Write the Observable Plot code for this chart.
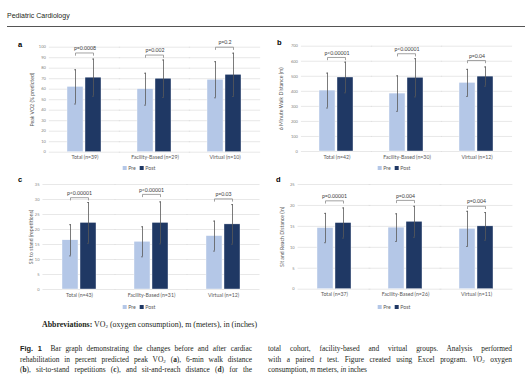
<!DOCTYPE html>
<html><head><meta charset="utf-8">
<script src="https://cdn.jsdelivr.net/npm/d3@7"></script>
<script src="https://cdn.jsdelivr.net/npm/@observablehq/plot@0.6"></script>
<style>
html,body{margin:0;padding:0;background:#fff}
body{width:530px;height:383px;position:relative;overflow:hidden;font-family:"Liberation Sans",Arial,sans-serif;color:#231f20}
.abs{position:absolute}
.letter{font-family:"Liberation Sans",Arial,sans-serif;font-weight:bold;font-size:7.5px;color:#000}
.panel svg{overflow:visible}
.panel g[aria-label="y-axis label"]{font-size:5.2px;fill:#595959}
.leg{position:absolute;transform:translateX(-50%);white-space:nowrap}
.leg .plot-swatches, .leg div{font-family:Lato,"Open Sans",sans-serif !important;font-size:5.2px !important;color:#595959 !important;margin:0 !important;min-height:0 !important}
.leg span{margin-right:4px !important;}
.leg svg{margin-right:1.5px !important}
.cap{font-family:"Liberation Serif","Times New Roman",serif;font-size:7.4px;line-height:10.5px;color:#231f20}
.cap .ln{text-align:justify;text-align-last:justify;white-space:nowrap;height:10.5px}
.cap .ln.last{text-align-last:left}
.figlab{font-family:"Liberation Sans",Arial,sans-serif;font-weight:bold}
</style></head><body>
<div class="abs" style="left:7px;top:12px;font-size:7px;color:#231f20">Pediatric Cardiology</div>
<div class="abs" style="left:7px;top:26px;width:518px;border-top:0.8px solid #555"></div>

<div class="abs letter" style="left:18px;top:40px">a</div>
<div class="abs letter" style="left:277px;top:38px">b</div>
<div class="abs letter" style="left:18px;top:175px">c</div>
<div class="abs letter" style="left:276px;top:175px">d</div>

<div id="pa" class="abs panel" style="left:20px;top:38px"></div>
<div id="pb" class="abs panel" style="left:275px;top:38px"></div>
<div id="pc" class="abs panel" style="left:18px;top:176px"></div>
<div id="pd" class="abs panel" style="left:275px;top:176px"></div>

<div id="la" class="leg" style="left:141px;top:164.5px"></div>
<div id="lb" class="leg" style="left:396px;top:164.5px"></div>
<div id="lc" class="leg" style="left:141px;top:303.5px"></div>
<div id="ld" class="leg" style="left:396px;top:303.5px"></div>

<div class="abs cap" style="left:42px;top:320px;font-size:7.9px;white-space:nowrap"><b>Abbreviations:</b> VO<sub style="font-size:5px;vertical-align:-1px">2</sub> (oxygen consumption), m (meters), in (inches)</div>

<div class="abs cap" style="left:20px;top:344px;width:232px">
<div class="ln"><span class="figlab">Fig. 1</span>&nbsp; Bar graph demonstrating the changes before and after cardiac</div>
<div class="ln">rehabilitation in percent predicted peak VO<sub style="font-size:5px;vertical-align:-1px">2</sub> (<b>a</b>), 6-min walk distance</div>
<div class="ln">(<b>b</b>), sit-to-stand repetitions (<b>c</b>), and sit-and-reach distance (<b>d</b>) for the</div>
</div>
<div class="abs cap" style="left:268px;top:344px;width:244px">
<div class="ln">total cohort, facility-based and virtual groups. Analysis performed</div>
<div class="ln">with a paired <i>t</i> test. Figure created using Excel program. <i>VO<sub style="font-size:5px;vertical-align:-1px">2</sub></i> oxygen</div>
<div class="ln last">consumption, <i>m</i> meters, <i>in</i> inches</div>
</div>

<script>
// ---------- data ----------
const groups = ["Total", "Facility-Based", "Virtual"];
const periods = ["Pre", "Post"];
const colors = ["#b4c7e7", "#1f3864"];

// a: Peak VO2 (% predicted)
const vo2N = [39, 29, 10];
const vo2Pre = [62.2, 60.0, 69.0];
const vo2PreSd = [16.3, 15.2, 17.2];
const vo2Post = [71.0, 70.0, 73.7];
const vo2PostSd = [17.7, 17.8, 20.6];
const vo2P = ["p=0.0008", "p=0.002", "p=0.2"];
const vo2Bracket = [94.5, 92.5, 100];

// b: 6 Minute Walk Distance (m)
const walkN = [42, 30, 12];
const walkPre = [405, 385, 456];
const walkPreSd = [116, 118, 90];
const walkPost = [492, 490, 498];
const walkPostSd = [102, 127, 64];
const walkP = ["p<0.00001", "p<0.00001", "p=0.04"];
const walkBracket = [625, 650, 605];

// c: Sit to stand (repetitions)
const stsN = [43, 31, 12];
const stsPre = [16.4, 15.9, 17.8];
const stsPreSd = [5.2, 5.0, 5.0];
const stsPost = [22.2, 22.2, 21.7];
const stsPostSd = [6.8, 7.0, 6.6];
const stsP = ["p<0.00001", "p<0.00001", "p=0.03"];
const stsBracket = [30.6, 31.7, 30.2];

// d: Sit and Reach Distance (in)
const srN = [37, 26, 11];
const srPre = [14.6, 14.7, 14.4];
const srPreSd = [3.5, 3.3, 4.2];
const srPost = [15.8, 16.1, 15.0];
const srPostSd = [3.6, 3.7, 3.3];
const srP = ["p=0.00001", "p=0.004", "p=0.004"];
const srBracket = [21.1, 21.2, 19.8];

// ---------- drawing ----------
function panel(cfg) {
  const cats = groups.map((g, i) => `${g} (n=${cfg.n[i]})`);
  const rows = [];
  cats.forEach((c, i) => {
    rows.push({cat: c, period: "Pre", v: cfg.pre[i], sd: cfg.preSd[i]});
    rows.push({cat: c, period: "Post", v: cfg.post[i], sd: cfg.postSd[i]});
  });
  const br = cats.map((c, i) => ({cat: c, y: cfg.bracket[i], p: cfg.p[i]}));
  const tl = cfg.yMax * 0.022;
  const brPath = br.flatMap(b => [
    {cat: b.cat, period: "Pre", y: b.y - tl},
    {cat: b.cat, period: "Pre", y: b.y},
    {cat: b.cat, period: "Post", y: b.y},
    {cat: b.cat, period: "Post", y: b.y - tl}
  ]);
  const ticks = d3.range(0, cfg.yMax + cfg.yStep / 2, cfg.yStep);
  const frameW = cfg.width - cfg.ml - cfg.mr;
  const outer = frameW / 12;       // outer padding of the group band
  const ext = outer + 0.5;         // half of the gap between groups
  const chart = Plot.plot({
    width: cfg.width, height: cfg.height,
    marginLeft: cfg.ml, marginRight: cfg.mr, marginTop: cfg.mt, marginBottom: cfg.mb,
    style: {fontFamily: "Lato, 'Open Sans', sans-serif", background: "transparent", overflow: "visible"},
    fx: {domain: cats, paddingInner: 0.5, paddingOuter: 0.25, label: null},
    x: {domain: periods, paddingInner: 0.1, paddingOuter: 0, axis: null},
    y: {domain: [0, cfg.yMax], label: null},
    color: {domain: periods, range: colors},
    marks: [
      Plot.gridY(ticks, {stroke: "#d9d9d9", strokeOpacity: 1, strokeWidth: 0.6, insetLeft: -ext, insetRight: -ext}),
      Plot.axisY(ticks, {tickSize: 0, tickPadding: 4 + outer, fontSize: 4, fill: "#7f7f7f",
        label: cfg.yLabel, labelAnchor: "center", labelArrow: "none", labelOffset: cfg.lo + outer}),
      Plot.axisFx({anchor: "bottom", tickSize: 0, tickPadding: 3.5, fontSize: 5.2, fill: "#595959", label: null}),
      Plot.barY(rows, {fx: "cat", x: "period", y: "v", fill: "period", stroke: "white", strokeWidth: 0.4}),
      Plot.ruleX(rows, {fx: "cat", x: "period", y1: d => d.v - d.sd, y2: d => d.v + d.sd, stroke: "#595959", strokeWidth: 0.8}),
      Plot.tickY(rows, {fx: "cat", x: "period", y: d => d.v + d.sd, stroke: "#595959", strokeWidth: 0.7, insetLeft: 7, insetRight: 7}),
      Plot.tickY(rows, {fx: "cat", x: "period", y: d => d.v - d.sd, stroke: "#595959", strokeWidth: 0.7, insetLeft: 7, insetRight: 7}),
      Plot.line(brPath, {fx: "cat", x: "period", y: "y", z: "cat", stroke: "#8c8c8c", strokeWidth: 0.8}),
      Plot.text(br, {fx: "cat", y: "y", text: "p", dy: -4.5, fontSize: 5.2, fill: "#404040"})
    ]
  });
  document.getElementById(cfg.id).appendChild(chart);
  const leg = Plot.legend({color: {type: "ordinal", domain: periods, range: colors}, swatchSize: 4});
  document.getElementById(cfg.leg).appendChild(leg);
}

panel({id: "pa", leg: "la", width: 242, height: 124, ml: 28, mr: 2, mt: 8.7, mb: 10.3, lo: 19.6,
  yMax: 100, yStep: 10, yLabel: "Peak VO2 (% predicted)", n: vo2N,
  pre: vo2Pre, preSd: vo2PreSd, post: vo2Post, postSd: vo2PostSd, p: vo2P, bracket: vo2Bracket});
panel({id: "pb", leg: "lb", width: 242, height: 124, ml: 26, mr: 5, mt: 7.7, mb: 11, lo: 22.6,
  yMax: 700, yStep: 100, yLabel: "6 Minute Walk Distance (m)", n: walkN,
  pre: walkPre, preSd: walkPreSd, post: walkPost, postSd: walkPostSd, p: walkP, bracket: walkBracket});
panel({id: "pc", leg: "lc", width: 244, height: 124, ml: 25, mr: 3, mt: 8, mb: 11, lo: 14.6,
  yMax: 35, yStep: 5, yLabel: "Sit to stand (repetitions)", n: stsN,
  pre: stsPre, preSd: stsPreSd, post: stsPost, postSd: stsPostSd, p: stsP, bracket: stsBracket});
panel({id: "pd", leg: "ld", width: 242, height: 124, ml: 22, mr: 5, mt: 8, mb: 11.3, lo: 18.6,
  yMax: 25, yStep: 5, yLabel: "Sit and Reach Distance (in)", n: srN,
  pre: srPre, preSd: srPreSd, post: srPost, postSd: srPostSd, p: srP, bracket: srBracket});
</script>
</body></html>
